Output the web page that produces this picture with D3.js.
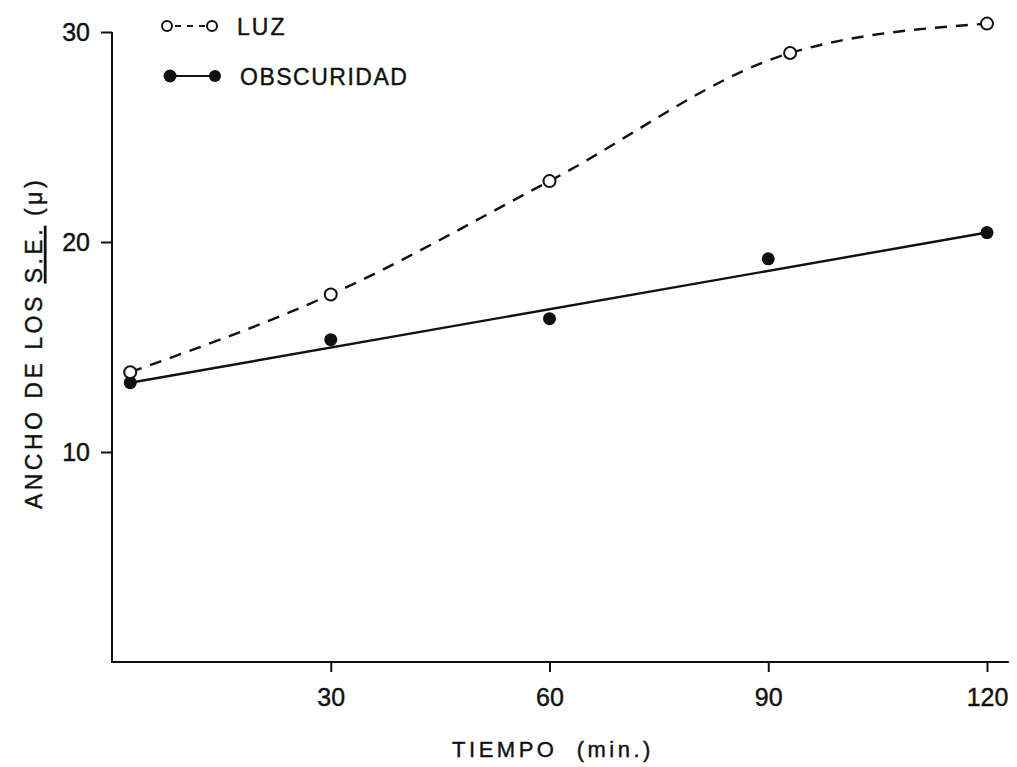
<!DOCTYPE html>
<html>
<head>
    <meta charset="utf-8"/>
    <title>Ancho de los S.E.</title>
    <script src="https://d3js.org/d3.v7.min.js"></script>
</head>
<style>
    body { margin: 0; background: white; }
    text { font-family: "Liberation Sans", Arial, sans-serif; fill: #111; stroke: #111; stroke-width: 0.4px; }
</style>
<body>

<svg id="chart" width="1017" height="767"></svg>

<script type="text/javascript">

    // data
    var luzTime = [2.5, 30, 60, 93, 120];
    var luzWidth = [13.8, 17.5, 22.9, 29.0, 30.4];

    var obscTime = [2.5, 30, 60, 90, 120];
    var obscWidth = [13.3, 15.35, 16.35, 19.2, 20.45];

    // fitted straight line for OBSCURIDAD
    var obscFitTime = [2.5, 120];
    var obscFitWidth = [13.3, 20.45];

    var xTicks = [30, 60, 90, 120];
    var yTicks = [10, 20, 30];

    var svg = d3.select("#chart");

    var x = d3.scaleLinear().domain([0, 120]).range([112, 987]);
    var y = d3.scaleLinear().domain([0, 30]).range([662, 32]);

    // axes lines
    svg.append("line")
            .attr("x1", x(0)).attr("y1", y(0))
            .attr("x2", x(123)).attr("y2", y(0))
            .attr("stroke", "#111").attr("stroke-width", 2.2);
    svg.append("line")
            .attr("x1", x(0)).attr("y1", y(0) + 1)
            .attr("x2", x(0)).attr("y2", y(30))
            .attr("stroke", "#111").attr("stroke-width", 2);

    var xAxis = d3.axisBottom(x).tickValues(xTicks).tickSize(10).tickSizeOuter(0).tickPadding(16);
    var gx = svg.append("g").attr("transform", "translate(0," + y(0) + ")").call(xAxis);
    gx.select(".domain").remove();
    gx.selectAll(".tick line").attr("stroke", "#111").attr("stroke-width", 2);
    gx.selectAll(".tick text")
            .style("font-size", "25px")
            .attr("fill", "#111");

    var yAxis = d3.axisLeft(y).tickValues(yTicks).tickSize(11).tickSizeOuter(0).tickPadding(11);
    var gy = svg.append("g").attr("transform", "translate(" + x(0) + ",0)").call(yAxis);
    gy.select(".domain").remove();
    gy.selectAll(".tick line").attr("stroke", "#111").attr("stroke-width", 2);
    gy.selectAll(".tick text")
            .style("font-size", "25px")
            .attr("fill", "#111");

    // axis titles
    svg.append("text")
            .attr("x", 553).attr("y", 757)
            .attr("text-anchor", "middle")
            .style("font-size", "22px")
            .style("letter-spacing", "3.5px")
            .attr("xml:space", "preserve")
            .text("TIEMPO  (min.)");

    var yTitle = svg.append("text")
            .attr("transform", "translate(42,343) rotate(-90)")
            .attr("text-anchor", "middle")
            .style("font-size", "23px")
            .style("letter-spacing", "3.5px");
    yTitle.append("tspan").text("ANCHO DE LOS ");
    yTitle.append("tspan").attr("text-decoration", "underline").style("text-decoration", "underline").text("S.E.");
    yTitle.append("tspan").text(" (μ)");

    // lines
    var luzPts = luzTime.map(function (t, i) { return [t, luzWidth[i]]; });
    var obscPts = obscTime.map(function (t, i) { return [t, obscWidth[i]]; });
    var fitPts = obscFitTime.map(function (t, i) { return [t, obscFitWidth[i]]; });

    var curve = d3.line()
            .x(function (d) { return x(d[0]); })
            .y(function (d) { return y(d[1]); })
            .curve(d3.curveMonotoneX);

    svg.append("path")
            .attr("d", curve(luzPts))
            .attr("fill", "none")
            .attr("stroke", "#111")
            .attr("stroke-width", 2.4)
            .attr("stroke-dasharray", "12,9");

    svg.append("path")
            .attr("d", d3.line().x(function (d) { return x(d[0]); }).y(function (d) { return y(d[1]); })(fitPts))
            .attr("fill", "none")
            .attr("stroke", "#111")
            .attr("stroke-width", 2.4);

    // points
    svg.selectAll(".obsc")
            .data(obscPts)
            .enter().append("circle")
            .attr("class", "obsc")
            .attr("cx", function (d) { return x(d[0]); })
            .attr("cy", function (d) { return y(d[1]); })
            .attr("r", 6.5)
            .attr("fill", "#111");

    svg.selectAll(".luz")
            .data(luzPts)
            .enter().append("circle")
            .attr("class", "luz")
            .attr("cx", function (d) { return x(d[0]); })
            .attr("cy", function (d) { return y(d[1]); })
            .attr("r", 6)
            .attr("fill", "white")
            .attr("stroke", "#111")
            .attr("stroke-width", 2);

    // legend
    var legend = svg.append("g");
    legend.append("line")
            .attr("x1", 172).attr("y1", 26).attr("x2", 207).attr("y2", 26)
            .attr("stroke", "#111").attr("stroke-width", 2).attr("stroke-dasharray", "6,6").attr("stroke-dashoffset", -3);
    legend.append("circle").attr("cx", 167).attr("cy", 26).attr("r", 5)
            .attr("fill", "white").attr("stroke", "#111").attr("stroke-width", 2);
    legend.append("circle").attr("cx", 212).attr("cy", 26).attr("r", 5)
            .attr("fill", "white").attr("stroke", "#111").attr("stroke-width", 2);
    legend.append("text").attr("x", 237).attr("y", 35)
            .style("font-size", "23px").style("letter-spacing", "2px").text("LUZ");

    legend.append("line")
            .attr("x1", 170).attr("y1", 76).attr("x2", 215).attr("y2", 76)
            .attr("stroke", "#111").attr("stroke-width", 2);
    legend.append("circle").attr("cx", 170).attr("cy", 76).attr("r", 6.5).attr("fill", "#111");
    legend.append("circle").attr("cx", 215).attr("cy", 76).attr("r", 6).attr("fill", "#111");
    legend.append("text").attr("x", 240).attr("y", 85)
            .style("font-size", "23px").style("letter-spacing", "1.5px").text("OBSCURIDAD");

</script>
</body>
</html>
